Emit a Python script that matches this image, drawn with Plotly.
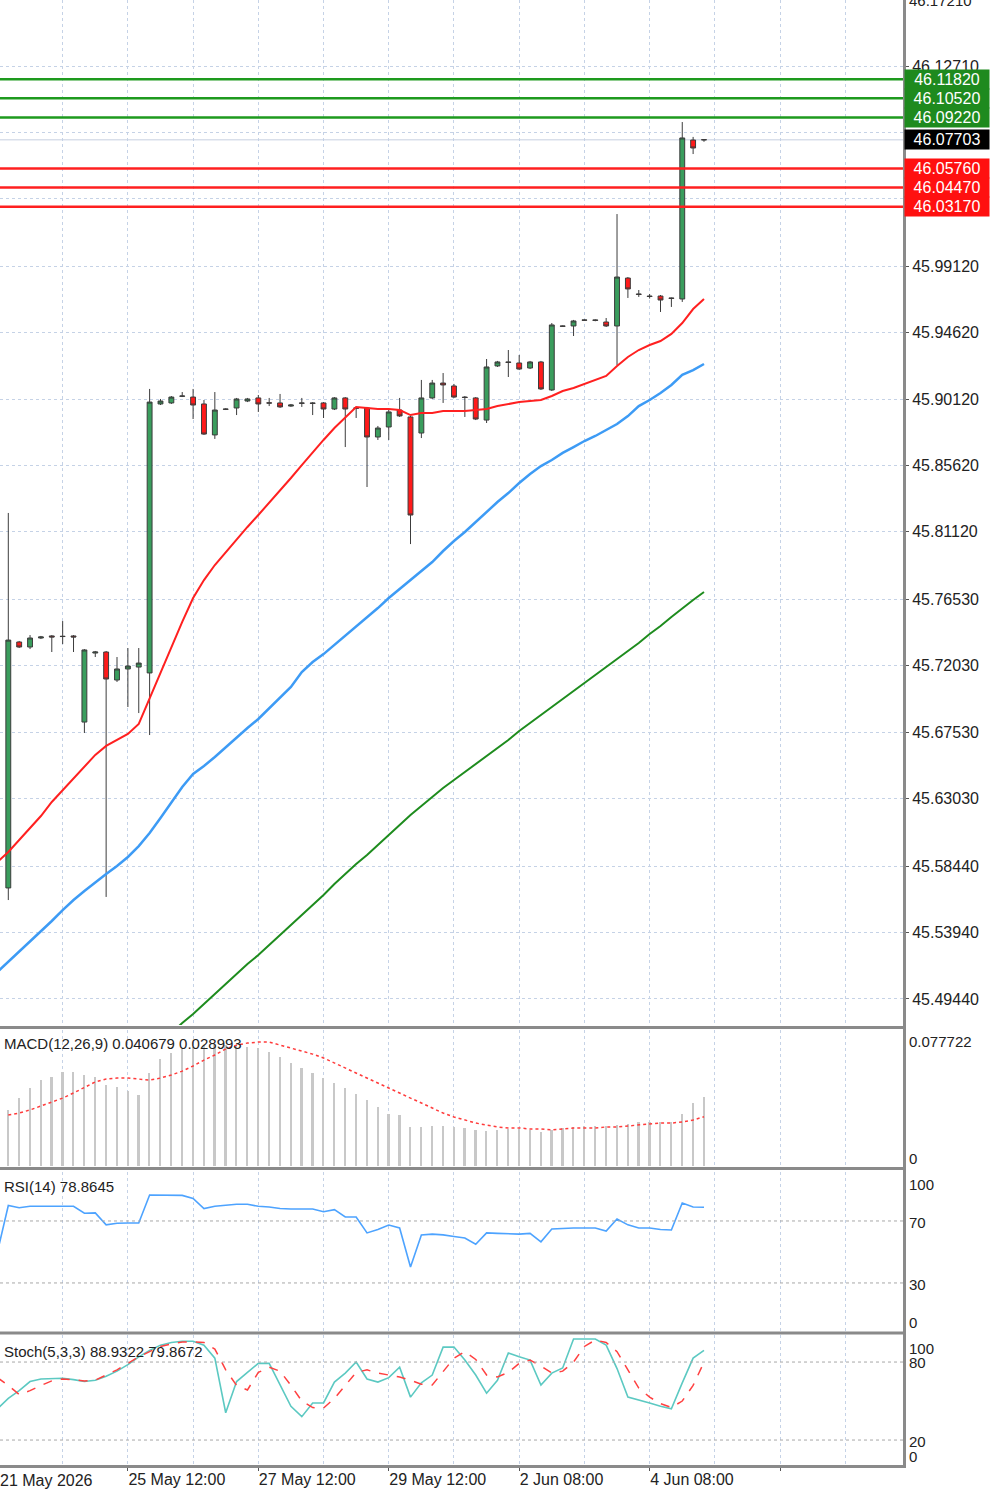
import plotly.graph_objects as go

# ---------------- data ----------------
bars = list(range(65))
opens = [45.5697, 45.7365, 45.7331, 45.7392, 45.7406, 45.7404, 45.7406, 45.6822, 45.7290, 45.7297,
         45.7107, 45.7182, 45.7195, 45.7155, 45.8979, 45.8986, 45.9031, 45.9026, 45.8979, 45.8769,
         45.8945, 45.8952, 45.8999, 45.9020, 45.8987, 45.8986, 45.8965, 45.8986, 45.8986, 45.8986,
         45.8945, 45.9020, 45.8952, 45.8952, 45.8755, 45.8823, 45.8938, 45.8891, 45.8782, 45.9020,
         45.9121, 45.9101, 45.9026, 45.9020, 45.8870, 45.9237, 45.9264, 45.9257, 45.9223, 45.9264,
         45.9074, 45.9508, 45.9508, 45.9549, 45.9549, 45.9535, 45.9508, 45.9833, 45.9725, 45.9711,
         45.9711, 45.9698, 45.9691, 46.0769, 46.0772]
highs = [45.8240, 45.7372, 45.7412, 45.7406, 45.7412, 45.7507, 45.7412, 45.7317, 45.7304, 45.7304,
         45.7263, 45.7324, 45.7324, 45.9081, 45.9013, 45.9033, 45.9060, 45.9081, 45.9006, 45.9060,
         45.8950, 45.9020, 45.9020, 45.9040, 45.9020, 45.9047, 45.8979, 45.9020, 45.8992, 45.8992,
         45.9026, 45.9026, 45.8959, 45.8959, 45.8830, 45.8938, 45.9020, 45.8898, 45.9142, 45.9142,
         45.9189, 45.9115, 45.9033, 45.9026, 45.9284, 45.9271, 45.9345, 45.9311, 45.9271, 45.9271,
         45.9528, 45.9511, 45.9549, 45.9553, 45.9553, 45.9562, 46.0267, 45.9840, 45.9752, 45.9725,
         45.9718, 45.9701, 46.0891, 46.0790, 46.0772]
lows = [45.5615, 45.7324, 45.7317, 45.7385, 45.7297, 45.7351, 45.7297, 45.6748, 45.7263, 45.5636,
        45.7094, 45.6924, 45.6883, 45.6734, 45.8972, 45.8979, 45.9026, 45.8877, 45.8769, 45.8742,
        45.8938, 45.8904, 45.8992, 45.8925, 45.8965, 45.8952, 45.8959, 45.8959, 45.8904, 45.8884,
        45.8938, 45.8687, 45.8884, 45.8416, 45.8735, 45.8735, 45.8891, 45.8029, 45.8748, 45.9013,
        45.8986, 45.9020, 45.8891, 45.8870, 45.8850, 45.9230, 45.9162, 45.9209, 45.9216, 45.9074,
        45.9067, 45.9503, 45.9440, 45.9542, 45.9540, 45.9501, 45.9243, 45.9698, 45.9705, 45.9694,
        45.9603, 45.9637, 45.9671, 46.0674, 46.0757]
closes = [45.7378, 45.7331, 45.7392, 45.7399, 45.7399, 45.7402, 45.7399, 45.7311, 45.7297, 45.7114,
          45.7182, 45.7202, 45.7222, 45.8992, 45.8999, 45.9026, 45.9033, 45.8972, 45.8775, 45.8938,
          45.8943, 45.9013, 45.9013, 45.8979, 45.8985, 45.8959, 45.8972, 45.8984, 45.8983, 45.8945,
          45.9020, 45.8945, 45.8950, 45.8755, 45.8816, 45.8925, 45.8898, 45.8226, 45.9020, 45.9121,
          45.9108, 45.9026, 45.9023, 45.8877, 45.9230, 45.9264, 45.9261, 45.9216, 45.9264, 45.9081,
          45.9515, 45.9506, 45.9542, 45.9547, 45.9546, 45.9508, 45.9840, 45.9759, 45.9722, 45.9708,
          45.9684, 45.9695, 46.0783, 46.0715, 46.07703]

ma_bars = list(range(-1, 65))
ma_red = [45.5873, 45.5941, 45.6022, 45.6104, 45.6185, 45.6280, 45.6361, 45.6443, 45.6524, 45.6599,
          45.6660, 45.6700, 45.6741, 45.6809, 45.6985, 45.7155, 45.7324, 45.7501, 45.7663, 45.7785,
          45.7887, 45.7975, 45.8063, 45.8145, 45.8226, 45.8308, 45.8389, 45.8477, 45.8565, 45.8653,
          45.8735, 45.8816, 45.8884, 45.8958, 45.8952, 45.8945, 45.8945, 45.8938, 45.8904, 45.8918,
          45.8918, 45.8931, 45.8931, 45.8931, 45.8938, 45.8945, 45.8965, 45.8979, 45.8992, 45.8999,
          45.9006, 45.9033, 45.9067, 45.9087, 45.9115, 45.9142, 45.9169, 45.9237, 45.9298, 45.9345,
          45.9379, 45.9406, 45.9454, 45.9528, 45.9623, 45.9691]
ma_blue = [45.5127, 45.5195, 45.5263, 45.5337, 45.5405, 45.5473, 45.5547, 45.5615, 45.5676, 45.5737,
           45.5792, 45.5846, 45.5907, 45.5981, 45.6070, 45.6171, 45.6280, 45.6382, 45.6470, 45.6524,
           45.6585, 45.6653, 45.6721, 45.6782, 45.6843, 45.6917, 45.6992, 45.7060, 45.7161, 45.7229,
           45.7283, 45.7345, 45.7412, 45.7473, 45.7534, 45.7595, 45.7663, 45.7724, 45.7785, 45.7846,
           45.7907, 45.7982, 45.8050, 45.8111, 45.8179, 45.8247, 45.8314, 45.8375, 45.8443, 45.8504,
           45.8558, 45.8599, 45.8647, 45.8687, 45.8728, 45.8762, 45.8803, 45.8843, 45.8897, 45.8965,
           45.9006, 45.9053, 45.9108, 45.9176, 45.9209, 45.9250]
green_bars = list(range(14, 65))
ma_green = [45.4652, 45.4713, 45.4781, 45.4842, 45.4910, 45.4978, 45.5046, 45.5113, 45.5181, 45.5242,
            45.5310, 45.5378, 45.5446, 45.5514, 45.5581, 45.5649, 45.5724, 45.5792, 45.5859, 45.5920,
            45.5988, 45.6056, 45.6124, 45.6192, 45.6253, 45.6314, 45.6375, 45.6429, 45.6483, 45.6538,
            45.6592, 45.6646, 45.6700, 45.6761, 45.6816, 45.6870, 45.6924, 45.6978, 45.7033, 45.7087,
            45.7141, 45.7195, 45.7250, 45.7304, 45.7358, 45.7419, 45.7473, 45.7534, 45.7595, 45.7650,
            45.7704]

resistance = [46.1182, 46.1052, 46.0922]
support = [46.0576, 46.0447, 46.0317]
last_price = 46.07703

price_ticks = [46.1271, 46.0821, 46.0371, 45.9912, 45.9462, 45.9012, 45.8562, 45.8112, 45.7653,
               45.7203, 45.6753, 45.6303, 45.5844, 45.5394, 45.4944]
price_tick_text = ["46.12710", "", "", "45.99120", "45.94620", "45.90120", "45.85620",
                   "45.81120", "45.76530", "45.72030", "45.67530", "45.63030", "45.58440", "45.53940",
                   "45.49440"]

macd_hist = [0.0330, 0.0400, 0.0459, 0.0506, 0.0524, 0.0553, 0.0553, 0.0536, 0.0524, 0.0477,
             0.0465, 0.0442, 0.0418, 0.0548, 0.0630, 0.0665, 0.0689, 0.0701, 0.0712, 0.0712,
             0.0712, 0.0712, 0.0701, 0.0695, 0.0671, 0.0642, 0.0606, 0.0577, 0.0548, 0.0518,
             0.0489, 0.0459, 0.0424, 0.0389, 0.0347, 0.0306, 0.0300, 0.0230, 0.0230, 0.0236,
             0.0236, 0.0230, 0.0224, 0.0212, 0.0206, 0.0212, 0.0218, 0.0218, 0.0212, 0.0200,
             0.0212, 0.0224, 0.0230, 0.0236, 0.0236, 0.0236, 0.0241, 0.0247, 0.0259, 0.0259,
             0.0259, 0.0259, 0.0306, 0.0371, 0.040679]
macd_signal = [0.0300, 0.0312, 0.0330, 0.0353, 0.0377, 0.0400, 0.0430, 0.0465, 0.0495, 0.0512,
               0.0518, 0.0518, 0.0512, 0.0506, 0.0518, 0.0536, 0.0559, 0.0589, 0.0624, 0.0654,
               0.0689, 0.0712, 0.0724, 0.0730, 0.0730, 0.0712, 0.0695, 0.0677, 0.0659, 0.0636,
               0.0606, 0.0577, 0.0548, 0.0518, 0.0489, 0.0459, 0.0430, 0.0400, 0.0371, 0.0342,
               0.0312, 0.0289, 0.0271, 0.0253, 0.0241, 0.0230, 0.0224, 0.0224, 0.0218, 0.0218,
               0.0212, 0.0218, 0.0224, 0.0224, 0.0224, 0.0230, 0.0230, 0.0236, 0.0241, 0.0247,
               0.0253, 0.0253, 0.0259, 0.0271, 0.028993]

rsi = [50, 80, 78.5, 79.5, 79.5, 79.5, 79.5, 79.5, 75, 75.2,
       67.5, 68.5, 68.7, 68.7, 86.8, 86.8, 86.8, 86.5, 84.5, 78,
       79.5, 80, 80.8, 80.8, 79.5, 79, 78, 77.7, 77.7, 77.7,
       76, 77.3, 72.6, 72.6, 62.3, 64.5, 67.4, 65.5, 40.3, 61,
       61.5, 61, 60, 59, 55, 62.3, 62, 61.8, 61.5, 62,
       56.5, 64.8, 65.3, 65.5, 65.5, 65.5, 63.5, 71.3, 67.5, 65.5,
       65.5, 64.5, 64.2, 81.6, 79, 78.8645]

stoch_main = [44, 52, 58, 65, 67, 67.5, 67.5, 66.5, 65, 66,
              69, 73, 78, 84, 89, 93, 95, 96, 96, 93,
              83, 41, 65, 72, 79, 79, 62, 46, 38, 48.5,
              48.5, 64.6, 71.5, 80, 67, 64.6, 68, 76, 53, 64,
              70, 91.5, 91.5, 81.5, 70, 56, 66, 87, 84, 81.5,
              62.3, 71.5, 75.4, 97.7, 97.7, 97.7, 93, 75, 53, 51,
              48.5, 46, 44, 64, 83, 88.9322]
stoch_signal = [68, 62, 55, 58, 62, 65.5, 67, 66.5, 65.5, 66,
                70, 74, 79, 84, 88, 92, 94, 95.5, 95.5, 95,
                90, 74, 62, 58.5, 72, 76, 73, 62, 50, 45,
                44.6, 52, 62, 72, 74, 71.5, 70, 68.5, 66, 63,
                62.3, 73, 83, 88, 82, 70, 68.5, 72, 79, 81.5,
                77, 71.5, 73, 80, 92, 97, 95, 88, 74, 60,
                53, 48, 45, 50, 62, 79.8672]

x_label_bars = [-1, 11, 23, 35, 47, 59, 71]
x_labels = ["21 May 2026", "25 May 12:00", "27 May 12:00", "29 May 12:00", "2 Jun 08:00", "4 Jun 08:00", ""]
x_minor_bars = [5, 17, 29, 41, 53, 65, 77]

# ---------------- layout helpers ----------------
W, H = 1000, 1498
XR = 0.904
def py(p):
    return 1 - p / H

FONT = "Liberation Sans, Arial, sans-serif"
GRID = "#c5d2e6"
x_range = [-0.764, 82.4]

fig = go.Figure()

fig.add_trace(go.Candlestick(
    x=bars, open=opens, high=highs, low=lows, close=closes,
    increasing=dict(line=dict(color="#3c3c3c", width=1), fillcolor="#3a9d5d"),
    decreasing=dict(line=dict(color="#3c3c3c", width=1), fillcolor="#ff1a1a"),
    whiskerwidth=0, xaxis="x", yaxis="y", hoverinfo="skip"))

fig.add_trace(go.Scatter(x=green_bars, y=ma_green, mode="lines",
                         line=dict(color="#1e8c1e", width=2), xaxis="x", yaxis="y", hoverinfo="skip"))
fig.add_trace(go.Scatter(x=ma_bars, y=ma_blue, mode="lines",
                         line=dict(color="#3d9bf5", width=2.5), xaxis="x", yaxis="y", hoverinfo="skip"))
fig.add_trace(go.Scatter(x=ma_bars, y=ma_red, mode="lines",
                         line=dict(color="#ff2020", width=2), xaxis="x", yaxis="y", hoverinfo="skip"))

# MACD
fig.add_trace(go.Bar(x=bars, y=macd_hist, width=0.16, marker=dict(color="#c8c8c8", line=dict(width=0)),
                     xaxis="x2", yaxis="y2", hoverinfo="skip"))
fig.add_trace(go.Scatter(x=bars, y=macd_signal, mode="lines",
                         line=dict(color="#ff3b3b", width=1.5, dash="dot"), xaxis="x2", yaxis="y2", hoverinfo="skip"))
# RSI
fig.add_trace(go.Scatter(x=ma_bars, y=rsi, mode="lines",
                         line=dict(color="#4da3ff", width=1.6), xaxis="x3", yaxis="y3", hoverinfo="skip"))
# Stoch
fig.add_trace(go.Scatter(x=ma_bars, y=stoch_main, mode="lines",
                         line=dict(color="#5cc9c2", width=1.6), xaxis="x4", yaxis="y4", hoverinfo="skip"))
fig.add_trace(go.Scatter(x=ma_bars, y=stoch_signal, mode="lines",
                         line=dict(color="#ff4040", width=1.5, dash="dash"), xaxis="x4", yaxis="y4", hoverinfo="skip"))

def xaxis(anchor, labels=False):
    d = dict(domain=[0, XR], range=x_range, anchor=anchor, showline=False, zeroline=False,
             tickmode="array", tickvals=x_label_bars, showgrid=True, gridcolor=GRID, griddash="3px,3px",
             gridwidth=1,
             minor=dict(tickmode="array", tickvals=x_minor_bars, showgrid=True, gridcolor=GRID,
                        griddash="3px,3px", gridwidth=1, ticks=""),
             rangeslider=dict(visible=False), fixedrange=True)
    if labels:
        d.update(ticktext=x_labels, showticklabels=True, ticks="outside", ticklen=5, tickcolor="#555",
                 ticklabelposition="outside right", tickfont=dict(family=FONT, size=16, color="#222"))
    else:
        d.update(showticklabels=False, ticks="")
    return d

fig.update_layout(
    width=W, height=H, margin=dict(l=0, r=0, t=0, b=0),
    paper_bgcolor="white", plot_bgcolor="white", showlegend=False,
    boxgap=0.36, bargap=0,
    xaxis=xaxis("y"), xaxis2=xaxis("y2"), xaxis3=xaxis("y3"), xaxis4=xaxis("y4", labels=True),
    yaxis=dict(domain=[py(1025), 1], range=[45.47676, 46.17186], side="right", anchor="x",
               tickmode="array", tickvals=price_ticks, ticktext=price_tick_text,
               showgrid=True, gridcolor=GRID, griddash="3px,3px", gridwidth=1, zeroline=False,
               ticks="outside", ticklen=4, tickcolor="#555",
               tickfont=dict(family=FONT, size=16, color="#222"), fixedrange=True),
    yaxis2=dict(domain=[py(1166), py(1030)], range=[0, 0.0801], anchor="x2", showticklabels=False,
                showgrid=False, zeroline=False, fixedrange=True),
    yaxis3=dict(domain=[py(1331), py(1172)], range=[-1, 101.6], anchor="x3", showticklabels=False,
                showgrid=False, zeroline=False, fixedrange=True),
    yaxis4=dict(domain=[py(1465), py(1335)], range=[0.8, 100.8], anchor="x4", showticklabels=False,
                showgrid=False, zeroline=False, fixedrange=True),
)

shapes = []
shapes.append(dict(type="line", xref="paper", yref="y", x0=0, x1=XR, y0=last_price, y1=last_price,
                   line=dict(color="#c6cfe0", width=1), layer="below"))
for v in resistance:
    shapes.append(dict(type="line", xref="paper", yref="y", x0=0, x1=XR, y0=v, y1=v,
                       line=dict(color="#1e9a1e", width=2.5)))
for v in support:
    shapes.append(dict(type="line", xref="paper", yref="y", x0=0, x1=XR, y0=v, y1=v,
                       line=dict(color="#ff2020", width=2.5)))
for v in (70, 30):
    shapes.append(dict(type="line", xref="paper", yref="y3", x0=0, x1=XR, y0=v, y1=v,
                       line=dict(color="#a8a8a8", width=1, dash="dot")))
for v in (80, 20):
    shapes.append(dict(type="line", xref="paper", yref="y4", x0=0, x1=XR, y0=v, y1=v,
                       line=dict(color="#a8a8a8", width=1, dash="dot")))
for pyv in (1027.5, 1168.5, 1333, 1466.5):
    shapes.append(dict(type="line", xref="paper", yref="paper", x0=0, x1=0.9045, y0=py(pyv), y1=py(pyv),
                       line=dict(color="#8a8a8a", width=3)))
shapes.append(dict(type="line", xref="paper", yref="paper", x0=0.9045, x1=0.9045, y0=py(1468), y1=1,
                   line=dict(color="#8a8a8a", width=3)))
fig.update_layout(shapes=shapes)

ann = []
def tag(price, color, text):
    ann.append(dict(xref="paper", yref="y", x=0.9035, y=price, xanchor="left", yanchor="middle",
                    text=text, showarrow=False, bgcolor=color, width=82, height=17, align="center",
                    borderpad=1, font=dict(family=FONT, size=16, color="white")))
for v in resistance:
    tag(v, "#1e8a1e", f"{v:.5f}")
for v in support:
    tag(v, "#ff1010", f"{v:.5f}")
tag(last_price, "#000000", f"{last_price:.5f}")

def side_label(ypx, text):
    ann.append(dict(xref="paper", yref="paper", x=0.907, y=py(ypx), xanchor="left", yanchor="middle",
                    text=text, showarrow=False, font=dict(family=FONT, size=15, color="#222")))
side_label(0, "46.17210")
side_label(1041, "0.077722")
side_label(1158, "0")
side_label(1184, "100")
side_label(1222, "70")
side_label(1284, "30")
side_label(1322, "0")
side_label(1348, "100")
side_label(1362, "80")
side_label(1441, "20")
side_label(1456, "0")

def panel_title(ypx, text):
    ann.append(dict(xref="paper", yref="paper", x=0.002, y=py(ypx), xanchor="left", yanchor="middle",
                    text=text, showarrow=False, font=dict(family=FONT, size=15, color="#222")))
panel_title(1043, "MACD(12,26,9) 0.040679 0.028993")
panel_title(1186, "RSI(14) 78.8645")
panel_title(1351, "Stoch(5,3,3) 88.9322 79.8672")

# first date label sits at the chart's left edge
ann.append(dict(xref="paper", yref="paper", x=-0.002, y=py(1480), xanchor="left", yanchor="middle",
                text=x_labels[0], showarrow=False, font=dict(family=FONT, size=16, color="#222")))

fig.update_layout(annotations=ann)

fig.write_html("out.html")
